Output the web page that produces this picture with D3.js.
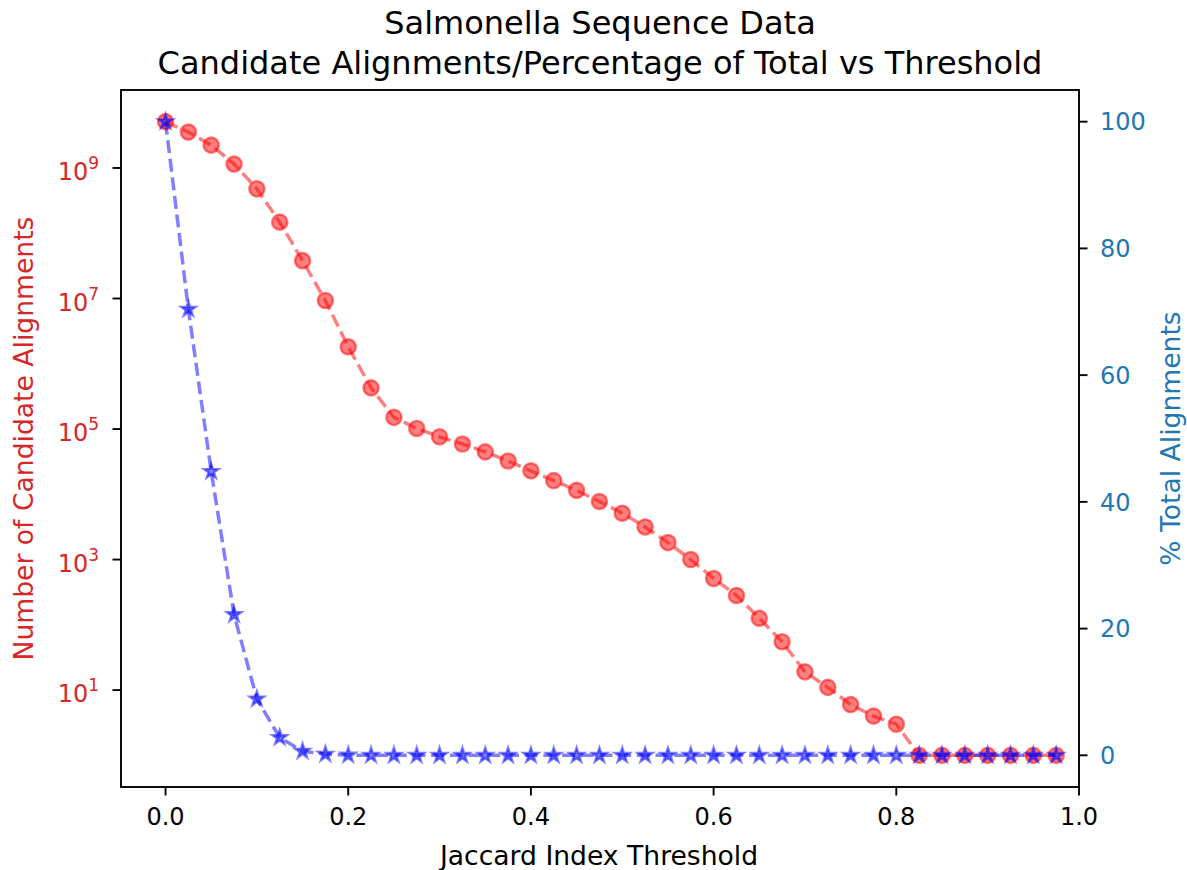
<!DOCTYPE html>
<html>
<head>
<meta charset="utf-8">
<script src="https://cdn.jsdelivr.net/npm/d3@7"></script>
<style>
  body { margin: 0; background: #fff; }
  text { font-family: "DejaVu Sans", sans-serif; }
</style>
</head>
<body>
<div id="chart"></div>
<script>
// jaccard thresholds
var thresholds = [0.0, 0.025, 0.05, 0.075, 0.1, 0.125, 0.15, 0.175, 0.2, 0.225,
                  0.25, 0.275, 0.3, 0.325, 0.35, 0.375, 0.4, 0.425, 0.45, 0.475,
                  0.5, 0.525, 0.55, 0.575, 0.6, 0.625, 0.65, 0.675, 0.7, 0.725,
                  0.75, 0.775, 0.8, 0.825, 0.85, 0.875, 0.9, 0.925, 0.95, 0.975];

// number of candidate alignments (log axis)
var candidates = [5.13e9, 3.55e9, 2.24e9, 1.15e9, 4.79e8, 1.48e8, 3.8e7, 9.3e6, 1.82e6, 4.27e5,
                  1.51e5, 1.02e5, 7.6e4, 5.9e4, 4.47e4, 3.24e4, 2.29e4, 1.62e4, 1.15e4, 7760,
                  5130, 3160, 1820, 1000, 513, 282, 126, 55, 19, 11,
                  6, 4, 3, 1, 1, 1, 1, 1, 1, 1];

// % of total alignments
var pctTotal = [100, 70.4, 44.8, 22.2, 8.9, 2.8, 0.65, 0.18, 0.036, 0.008,
                0.003, 0.002, 0.0015, 0.0012, 0.0009, 0.0006, 0.0004, 0.0003, 0.0002, 0.00015,
                0.0001, 0.00006, 0.00004, 0.00002, 0.00001, 0.000005, 0, 0, 0, 0,
                0, 0, 0, 0, 0, 0, 0, 0, 0, 0];

var xTicks = [0, 0.2, 0.4, 0.6, 0.8, 1.0];
var leftTicks = [1, 3, 5, 7, 9];          // exponents of 10
var rightTicks = [0, 20, 40, 60, 80, 100];

var W = 1187, H = 870;
var plotL = 121, plotR = 1079, plotT = 90, plotB = 787;

var svg = d3.select("#chart").append("svg").attr("width", W).attr("height", H);

var xScale = d3.scaleLinear().domain([-0.04875, 1.0]).range([plotL, plotR]);
var yLog = d3.scaleLog().domain([Math.pow(10, -0.485), Math.pow(10, 10.195)]).range([plotB, plotT]);
var yPct = d3.scaleLinear().domain([-5, 105]).range([plotB, plotT]);

var red = "#ff0000", blue = "#0000ff";
var tabRed = "#d62728", tabBlue = "#1f77b4";

// red series
var lineRed = d3.line()
    .x(function(d, i) { return xScale(thresholds[i]); })
    .y(function(d) { return yLog(d); });

svg.append("path")
   .datum(candidates)
   .attr("d", lineRed)
   .attr("fill", "none")
   .attr("stroke", red)
   .attr("stroke-opacity", 0.5)
   .attr("stroke-width", 3.5)
   .attr("stroke-dasharray", "13,5.7");

svg.selectAll(".dot")
   .data(candidates)
   .enter().append("circle")
   .attr("class", "dot")
   .attr("cx", function(d, i) { return xScale(thresholds[i]); })
   .attr("cy", function(d) { return yLog(d); })
   .attr("r", 7.6)
   .attr("fill", red)
   .attr("fill-opacity", 0.5)
   .attr("stroke", red)
   .attr("stroke-opacity", 0.5)
   .attr("stroke-width", 2.4);

// blue series
var lineBlue = d3.line()
    .x(function(d, i) { return xScale(thresholds[i]); })
    .y(function(d) { return yPct(d); });

svg.append("path")
   .datum(pctTotal)
   .attr("d", lineBlue)
   .attr("fill", "none")
   .attr("stroke", blue)
   .attr("stroke-opacity", 0.5)
   .attr("stroke-width", 3.5)
   .attr("stroke-dasharray", "13,5.7");

var star = d3.symbol().type(d3.symbolStar).size(64);
svg.selectAll(".star")
   .data(pctTotal)
   .enter().append("path")
   .attr("class", "star")
   .attr("d", star)
   .attr("transform", function(d, i) { return "translate(" + xScale(thresholds[i]) + "," + yPct(d) + ")"; })
   .attr("fill", blue)
   .attr("fill-opacity", 0.5)
   .attr("stroke", blue)
   .attr("stroke-opacity", 0.5)
   .attr("stroke-width", 2.4);

// frame
svg.append("rect")
   .attr("x", plotL).attr("y", plotT)
   .attr("width", plotR - plotL).attr("height", plotB - plotT)
   .attr("fill", "none").attr("stroke", "#000").attr("stroke-width", 1.9);

// x axis
var gx = svg.append("g");
xTicks.forEach(function(t) {
  var x = xScale(t);
  gx.append("line").attr("x1", x).attr("x2", x).attr("y1", plotB).attr("y2", plotB + 8.5)
    .attr("stroke", "#000").attr("stroke-width", 1.9);
  gx.append("text").attr("x", x).attr("y", 825).attr("text-anchor", "middle")
    .attr("font-size", "24px").attr("fill", "#000").text(t.toFixed(1));
});

// left log axis
var gl = svg.append("g");
leftTicks.forEach(function(e) {
  var y = yLog(Math.pow(10, e));
  var t = gl.append("text").attr("x", plotL - 22).attr("y", y + 12)
    .attr("text-anchor", "end").attr("font-size", "24px").attr("fill", tabRed);
  t.append("tspan").text("10");
  t.append("tspan").attr("font-size", "17px").attr("dy", -11).text(e);
  gl.append("line").attr("x1", plotL).attr("x2", plotL - 8.5).attr("y1", y).attr("y2", y)
    .attr("stroke", "#000").attr("stroke-width", 1.9);
});

// right axis
var gr = svg.append("g");
rightTicks.forEach(function(v) {
  var y = yPct(v);
  gr.append("line").attr("x1", plotR).attr("x2", plotR + 8.5).attr("y1", y).attr("y2", y)
    .attr("stroke", "#000").attr("stroke-width", 1.9);
  gr.append("text").attr("x", plotR + 21).attr("y", y + 8.7)
    .attr("font-size", "24px").attr("fill", tabBlue).text(v);
});

// labels
svg.append("text")
   .attr("transform", "translate(599,865)")
   .attr("text-anchor", "middle").attr("font-size", "26.6px").attr("fill", "#000")
   .text("Jaccard Index Threshold");

svg.append("text")
   .attr("transform", "translate(33,438.5) rotate(-90)")
   .attr("text-anchor", "middle").attr("font-size", "26.6px").attr("fill", tabRed)
   .text("Number of Candidate Alignments");

svg.append("text")
   .attr("transform", "translate(1180,438.5) rotate(-90)")
   .attr("text-anchor", "middle").attr("font-size", "26.6px").attr("fill", tabBlue)
   .text("% Total Alignments");

// title
svg.append("text").attr("x", 600).attr("y", 34).attr("text-anchor", "middle")
   .attr("font-size", "32px").attr("fill", "#000").text("Salmonella Sequence Data");
svg.append("text").attr("x", 600).attr("y", 74).attr("text-anchor", "middle")
   .attr("font-size", "32px").attr("fill", "#000")
   .text("Candidate Alignments/Percentage of Total vs Threshold");
</script>
</body>
</html>
